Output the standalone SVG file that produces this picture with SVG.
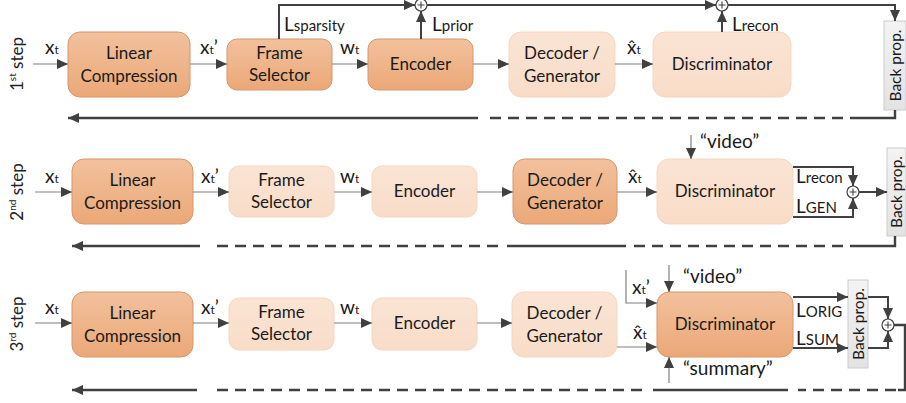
<svg xmlns="http://www.w3.org/2000/svg" width="906" height="403" viewBox="0 0 906 403">
<defs>
<linearGradient id="gDark" x1="0" y1="0" x2="0" y2="1"><stop offset="0" stop-color="#F2C19D"/><stop offset="1" stop-color="#EBA877"/></linearGradient>
<linearGradient id="gLight" x1="0" y1="0" x2="0" y2="1"><stop offset="0" stop-color="#FBE4D4"/><stop offset="1" stop-color="#F8DCC8"/></linearGradient>
<linearGradient id="gGray" x1="0" y1="0" x2="0" y2="1"><stop offset="0" stop-color="#F3F3F3"/><stop offset="1" stop-color="#E3E3E3"/></linearGradient>
<marker id="ah" markerUnits="userSpaceOnUse" markerWidth="11" markerHeight="10" refX="11" refY="5" orient="auto"><path d="M0,0 L11,5 L0,10 z" fill="#404040"/></marker>
</defs>
<style>
.dark{fill:url(#gDark);stroke:#D6966A;stroke-width:1}
.light{fill:url(#gLight);stroke:#F6D6BF;stroke-width:1}
.bp{fill:url(#gGray);stroke:#CCCCCC;stroke-width:1}
.nt{font-family:Lato,"Liberation Sans",sans-serif;font-size:17px;fill:#1a1a1a;text-anchor:middle}
.bt{font-family:Lato,"Liberation Sans",sans-serif;font-size:15.5px;fill:#1a1a1a;text-anchor:middle}
.lb{font-family:Lato,"Liberation Sans",sans-serif;font-size:19px;fill:#1a1a1a}
.sub{font-size:12px}
.sm{font-size:15px}
.st{font-family:Lato,"Liberation Sans",sans-serif;font-size:17px;fill:#222;text-anchor:middle}
.thin{fill:none;stroke:#808080;stroke-width:1.2}
.thick{fill:none;stroke:#404040;stroke-width:2}
.dash{fill:none;stroke:#404040;stroke-width:2.4;stroke-dasharray:11 7}
.sol{fill:none;stroke:#404040;stroke-width:2.4}
.sum{fill:#ffffff;stroke:#404040;stroke-width:1.2}
.plus{stroke:#404040;stroke-width:1.1}
</style>

<!-- step labels -->
<text class="st" transform="translate(23,64) rotate(-90)">1<tspan font-size="10" dy="-7">st</tspan><tspan dy="7"> step</tspan></text>
<text class="st" transform="translate(23,192) rotate(-90)">2<tspan font-size="10" dy="-7">nd</tspan><tspan dy="7"> step</tspan></text>
<text class="st" transform="translate(23,324) rotate(-90)">3<tspan font-size="10" dy="-7">rd</tspan><tspan dy="7"> step</tspan></text>

<!-- Row 1 nodes -->
<g id="lc1"><rect class="dark" x="68" y="32" width="122" height="65" rx="12"/><text class="nt" x="129" y="59">Linear</text><text class="nt" x="129" y="82">Compression</text></g>
<g id="fs1"><rect class="dark" x="227" y="39" width="105" height="51" rx="10"/><text class="nt" x="279.5" y="59">Frame</text><text class="nt" x="279.5" y="81">Selector</text></g>
<g id="en1"><rect class="dark" x="368" y="39" width="105" height="51" rx="10"/><text class="nt" x="420.5" y="70">Encoder</text></g>
<g id="dg1"><rect class="light" x="509" y="32" width="106" height="65" rx="12"/><text class="nt" x="562" y="59">Decoder /</text><text class="nt" x="562" y="82">Generator</text></g>
<g id="di1"><rect class="light" x="653" y="32" width="138" height="65" rx="12"/><text class="nt" x="722" y="70">Discriminator</text></g>
<g id="bp1"><rect class="bp" x="884" y="21" width="22" height="89"/><text class="bt" transform="translate(900.5,65.5) rotate(-90)">Back prop.</text></g>

<!-- Row 2 nodes -->
<g id="lc2"><rect class="dark" x="72" y="159" width="121" height="65" rx="12"/><text class="nt" x="132.5" y="186">Linear</text><text class="nt" x="132.5" y="209">Compression</text></g>
<g id="fs2"><rect class="light" x="229" y="166" width="105" height="51" rx="10"/><text class="nt" x="281.5" y="186">Frame</text><text class="nt" x="281.5" y="208">Selector</text></g>
<g id="en2"><rect class="light" x="372" y="166" width="105" height="51" rx="10"/><text class="nt" x="424.5" y="197">Encoder</text></g>
<g id="dg2"><rect class="dark" x="513" y="159" width="104" height="65" rx="12"/><text class="nt" x="565" y="186">Decoder /</text><text class="nt" x="565" y="209">Generator</text></g>
<g id="di2"><rect class="light" x="657" y="159" width="136" height="65" rx="12"/><text class="nt" x="725" y="197">Discriminator</text></g>
<g id="bp2"><rect class="bp" x="887" y="148" width="19" height="88"/><text class="bt" transform="translate(902,192) rotate(-90)">Back prop.</text></g>

<!-- Row 3 nodes -->
<g id="lc3"><rect class="dark" x="72" y="292" width="121" height="65" rx="12"/><text class="nt" x="132.5" y="319">Linear</text><text class="nt" x="132.5" y="342">Compression</text></g>
<g id="fs3"><rect class="light" x="229" y="298" width="105" height="52" rx="10"/><text class="nt" x="281.5" y="318">Frame</text><text class="nt" x="281.5" y="340">Selector</text></g>
<g id="en3"><rect class="light" x="372" y="298" width="105" height="52" rx="10"/><text class="nt" x="424.5" y="329">Encoder</text></g>
<g id="dg3"><rect class="light" x="512" y="292" width="105" height="65" rx="12"/><text class="nt" x="564.5" y="319">Decoder /</text><text class="nt" x="564.5" y="342">Generator</text></g>
<g id="di3"><rect class="dark" x="657" y="292" width="136" height="65" rx="12"/><text class="nt" x="725" y="330">Discriminator</text></g>
<g id="bp3"><rect class="bp" x="848" y="280" width="20" height="88"/><text class="bt" transform="translate(863.5,324) rotate(-90)">Back prop.</text></g>

<!-- sum nodes -->
<g id="sum1"><circle class="sum" cx="421" cy="5" r="6"/><path class="plus" d="M417.5,5 H424.5 M421,1.5 V8.5"/></g>
<g id="sum2"><circle class="sum" cx="722" cy="5" r="6"/><path class="plus" d="M718.5,5 H725.5 M722,1.5 V8.5"/></g>
<g id="sum3"><circle class="sum" cx="853" cy="192" r="6"/><path class="plus" d="M849.5,192 H856.5 M853,188.5 V195.5"/></g>
<g id="sum4"><circle class="sum" cx="888" cy="325" r="6"/><path class="plus" d="M884.5,325 H891.5 M888,321.5 V328.5"/></g>

<g id="connectors">
<!-- row 1 data -->
<path class="thin" d="M33,64 H68" marker-end="url(#ah)"/>
<path class="thin" d="M190,64 H227" marker-end="url(#ah)"/>
<path class="thin" d="M332,64 H368" marker-end="url(#ah)"/>
<path class="thin" d="M473,64 H509" marker-end="url(#ah)"/>
<path class="thin" d="M615,64 H653" marker-end="url(#ah)"/>
<!-- row 1 losses -->
<path class="thick" d="M279,39 V5 H415" marker-end="url(#ah)"/>
<path class="thick" d="M421,39 V11" marker-end="url(#ah)"/>
<path class="thick" d="M427,5 H716" marker-end="url(#ah)"/>
<path class="thick" d="M722,32 V11" marker-end="url(#ah)"/>
<path class="thick" d="M728,5 H895 V21" marker-end="url(#ah)"/>
<!-- row 1 return -->
<path class="sol" d="M895,110 V118 H850"/>
<path class="dash" d="M843,118 H486"/>
<path class="sol" d="M478,118 H68" marker-end="url(#ah)"/>

<!-- row 2 data -->
<path class="thin" d="M35,192 H72" marker-end="url(#ah)"/>
<path class="thin" d="M193,192 H229" marker-end="url(#ah)"/>
<path class="thin" d="M334,192 H372" marker-end="url(#ah)"/>
<path class="thin" d="M477,192 H513" marker-end="url(#ah)"/>
<path class="thin" d="M617,192 H657" marker-end="url(#ah)"/>
<path class="thin" d="M691,135 V159" marker-end="url(#ah)"/>
<!-- row 2 losses -->
<path class="thick" d="M793,167 H853 V186" marker-end="url(#ah)"/>
<path class="thick" d="M793,217 H853 V198" marker-end="url(#ah)"/>
<path class="thick" d="M859,192 H887" marker-end="url(#ah)"/>
<!-- row 2 return -->
<path class="sol" d="M895,236 V246 H850"/>
<path class="dash" d="M843,246 H633"/>
<path class="sol" d="M626,246 H507"/>
<path class="dash" d="M498,246 H210"/>
<path class="sol" d="M200,246 H72" marker-end="url(#ah)"/>

<!-- row 3 data -->
<path class="thin" d="M35,323 H72" marker-end="url(#ah)"/>
<path class="thin" d="M193,323 H229" marker-end="url(#ah)"/>
<path class="thin" d="M334,323 H372" marker-end="url(#ah)"/>
<path class="thin" d="M477,323 H512" marker-end="url(#ah)"/>
<path class="thin" d="M617,347 H657" marker-end="url(#ah)"/>
<path class="thin" d="M626,270 V303 H657" marker-end="url(#ah)"/>
<path class="thin" d="M669,265 V292" marker-end="url(#ah)"/>
<path class="thin" d="M669,383 V357" marker-end="url(#ah)"/>
<!-- row 3 losses -->
<path class="thick" d="M793,297 H848" marker-end="url(#ah)"/>
<path class="thick" d="M793,348 H848" marker-end="url(#ah)"/>
<path class="thick" d="M868,297 H888 V319" marker-end="url(#ah)"/>
<path class="thick" d="M868,348 H888 V331" marker-end="url(#ah)"/>
<!-- row 3 return -->
<path class="sol" d="M894,325 H905 V390 H898"/>
<path class="dash" d="M896,390 H798"/>
<path class="sol" d="M788,390 H653"/>
<path class="dash" d="M642,390 H210"/>
<path class="sol" d="M197,390 H72" marker-end="url(#ah)"/>
</g>

<!-- labels row 1 -->
<text class="lb" x="45" y="54">x<tspan class="sub">t</tspan></text>
<text class="lb" x="200" y="54">x<tspan class="sub">t</tspan>’</text>
<text class="lb" x="340" y="54">w<tspan class="sub">t</tspan></text>
<text class="lb" x="627" y="54">x̂<tspan class="sub">t</tspan></text>
<text class="lb" x="284" y="31">L<tspan class="sm">sparsity</tspan></text>
<text class="lb" x="432" y="31">L<tspan class="sm">prior</tspan></text>
<text class="lb" x="732" y="31">L<tspan class="sm">recon</tspan></text>

<!-- labels row 2 -->
<text class="lb" x="45" y="183">x<tspan class="sub">t</tspan></text>
<text class="lb" x="201" y="183">x<tspan class="sub">t</tspan>’</text>
<text class="lb" x="340" y="183">w<tspan class="sub">t</tspan></text>
<text class="lb" x="628" y="183">x̂<tspan class="sub">t</tspan></text>
<text class="lb" x="700" y="148">“video”</text>
<text class="lb" x="796" y="183">L<tspan class="sm">recon</tspan></text>
<text class="lb" x="796" y="213">L<tspan class="sm">GEN</tspan></text>

<!-- labels row 3 -->
<text class="lb" x="45" y="314">x<tspan class="sub">t</tspan></text>
<text class="lb" x="201" y="314">x<tspan class="sub">t</tspan>’</text>
<text class="lb" x="340" y="314">w<tspan class="sub">t</tspan></text>
<text class="lb" x="632" y="294">x<tspan class="sub">t</tspan>’</text>
<text class="lb" x="633" y="339">x̂<tspan class="sub">t</tspan></text>
<text class="lb" x="683" y="283">“video”</text>
<text class="lb" x="683" y="375">“summary”</text>
<text class="lb" x="796" y="317">L<tspan class="sm">ORIG</tspan></text>
<text class="lb" x="796" y="345">L<tspan class="sm">SUM</tspan></text>
</svg>
